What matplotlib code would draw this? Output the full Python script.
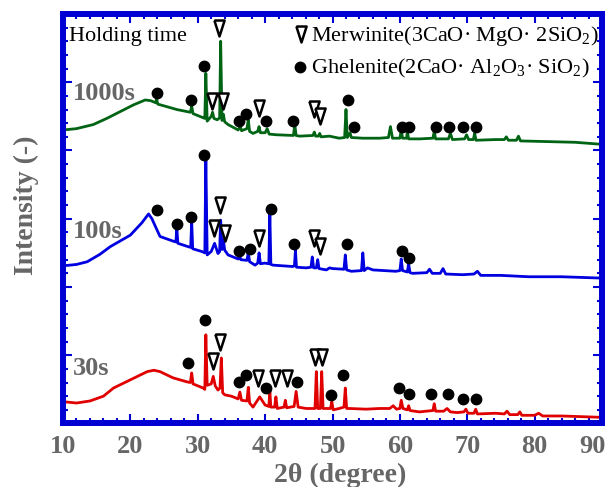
import matplotlib
matplotlib.use("Agg")
import matplotlib.pyplot as plt
from matplotlib.ticker import MultipleLocator

plt.rcParams['font.family'] = ['Liberation Serif', 'DejaVu Serif']
plt.rcParams['mathtext.fontset'] = 'custom'
plt.rcParams['mathtext.rm'] = 'Liberation Serif'
plt.rcParams['mathtext.it'] = 'Liberation Serif:italic'
plt.rcParams['mathtext.bf'] = 'Liberation Serif:bold'

# 30 s pattern (red)
red_x = [10.0, 12.0, 14.0, 16.0, 17.5, 20.0, 22.5, 23.5, 24.4, 26.3, 28.4,
         28.9, 29.1, 29.3, 30.8, 31.05, 31.2, 31.4, 32.0, 32.3, 32.6, 33.0,
         33.3, 33.5, 33.7, 34.0, 35.0, 36.0, 36.25, 36.5, 37.3, 37.5, 37.7,
         38.2, 39.2, 40.0, 40.55, 40.7, 40.85, 41.4, 41.6, 41.8, 42.8, 43.0,
         43.2, 44.3, 44.6, 44.9, 46.1, 47.4, 47.6, 47.8, 48.2, 48.4, 48.6,
         49.0, 49.7, 49.9, 50.1, 51.0, 51.7, 51.9, 52.1, 52.5, 55.0, 57.0,
         58.5, 59.0, 59.5, 60.0, 60.2, 60.45, 61.1, 61.3, 61.5, 62.9, 64.9,
         65.1, 65.3, 66.5, 67.0, 67.5, 68.5, 69.5, 69.8, 70.1, 71.0, 71.25,
         71.5, 74.2, 75.5, 75.9, 76.3, 77.5, 77.8, 78.1, 80.0, 80.6, 81.2,
         84.0, 87.0, 90.0]
red_y = [0.32, 0.30, 0.33, 0.40, 0.52, 0.64, 0.76, 0.78, 0.76, 0.67, 0.61,
         0.60, 0.74, 0.58, 0.52, 0.50, 1.30, 0.56, 0.58, 0.69, 0.55, 0.49,
         0.52, 0.96, 0.45, 0.42, 0.40, 0.36, 0.46, 0.34, 0.33, 0.53, 0.30,
         0.24, 0.39, 0.27, 0.25, 0.47, 0.24, 0.24, 0.39, 0.22, 0.24, 0.34,
         0.23, 0.25, 0.47, 0.24, 0.22, 0.22, 0.76, 0.22, 0.22, 0.76, 0.22,
         0.22, 0.22, 0.32, 0.20, 0.22, 0.24, 0.52, 0.22, 0.22, 0.21, 0.22,
         0.22, 0.26, 0.21, 0.22, 0.34, 0.22, 0.20, 0.26, 0.19, 0.17, 0.19,
         0.29, 0.18, 0.18, 0.22, 0.17, 0.16, 0.17, 0.21, 0.15, 0.15, 0.21,
         0.14, 0.15, 0.14, 0.18, 0.13, 0.13, 0.17, 0.12, 0.12, 0.15, 0.11,
         0.11, 0.10, 0.09]

# 100 s pattern (blue)
blue_x = [10.0, 12.0, 13.6, 15.5, 17.0, 20.0, 21.7, 22.7, 23.2, 23.7, 24.4,
          26.4, 26.75, 26.9, 27.05, 28.6, 28.95, 29.1, 29.25, 30.6, 31.05,
          31.2, 31.4, 32.0, 32.5, 33.0, 33.25, 33.4, 33.6, 33.8, 34.0, 34.5,
          36.0, 36.2, 36.4, 37.3, 37.5, 37.7, 38.5, 38.9, 39.1, 39.3, 39.95,
          40.55, 40.7, 40.85, 41.2, 44.1, 44.35, 44.5, 44.65, 46.1, 46.8,
          47.0, 47.2, 47.6, 47.8, 48.0, 49.1, 49.55, 50.0, 51.7, 51.9, 52.1,
          52.8, 54.3, 54.5, 54.7, 55.2, 56.0, 59.4, 60.0, 60.2, 60.4, 61.1,
          61.3, 61.5, 61.9, 64.0, 64.4, 64.8, 66.0, 66.4, 66.8, 69.3, 71.0,
          71.5, 72.0, 75.0, 79.1, 84.0, 90.0]
blue_y = [2.31, 2.33, 2.37, 2.48, 2.59, 2.76, 2.94, 3.07, 3.00, 2.89, 2.74,
          2.67, 2.66, 2.85, 2.64, 2.59, 2.58, 2.96, 2.56, 2.52, 2.50,
          3.89, 2.47, 2.52, 2.64, 2.49, 2.52, 2.98, 2.55, 2.69, 2.54, 2.47,
          2.41, 2.46, 2.40, 2.39, 2.50, 2.37, 2.32, 2.35, 2.50, 2.34, 2.35,
          2.34, 3.08, 2.33, 2.32, 2.30, 2.31, 2.54, 2.29, 2.28, 2.29,
          2.44, 2.28, 2.28, 2.40, 2.27, 2.25, 2.28, 2.27, 2.26, 2.47, 2.25,
          2.23, 2.24, 2.50, 2.24, 2.28, 2.25, 2.23, 2.24, 2.41, 2.24, 2.22,
          2.34, 2.21, 2.20, 2.21, 2.26, 2.20, 2.20, 2.27, 2.19, 2.18, 2.19,
          2.23, 2.17, 2.17, 2.15, 2.15, 2.13]

# 1000 s pattern (green)
green_x = [10.0, 12.0, 14.5, 16.5, 18.5, 20.5, 22.2, 23.0, 23.75, 23.9, 24.05,
           24.4, 26.9, 28.9, 29.1, 29.3, 30.8, 31.05, 31.2, 31.4, 32.0, 32.2,
           32.4, 32.9, 33.25, 33.4, 33.6, 33.8, 34.0, 34.5, 36.0, 36.3, 36.5,
           37.3, 37.5, 37.7, 38.2, 38.9, 39.1, 39.3, 40.0, 40.3, 40.6, 41.7,
           44.2, 44.4, 44.6, 45.1, 47.1, 47.3, 47.5, 47.9, 48.1, 48.3, 49.55,
           51.0, 51.8, 52.0, 52.2, 52.6, 52.8, 54.5, 57.0, 58.3, 58.6, 58.9,
           60.0, 60.2, 60.4, 61.0, 61.1, 61.3, 63.0, 64.9, 65.1, 65.3, 67.2,
           67.5, 67.8, 69.6, 69.9, 70.2, 70.9, 71.1, 71.3, 74.2, 75.5, 75.8,
           76.1, 77.3, 77.6, 77.9, 82.0, 86.0, 90.0]
green_y = [4.30, 4.32, 4.38, 4.47, 4.57, 4.67, 4.74, 4.73, 4.70, 4.76, 4.68,
           4.67, 4.60, 4.56, 4.65, 4.54, 4.48, 4.47, 5.13, 4.43, 4.50, 4.56,
           4.47, 4.45, 4.48, 5.60, 4.44, 4.53, 4.42, 4.38, 4.30, 4.36, 4.29,
           4.32, 4.45, 4.28, 4.25, 4.28, 4.35, 4.26, 4.26, 4.32, 4.24, 4.23,
           4.22, 4.38, 4.22, 4.21, 4.22, 4.27, 4.21, 4.21, 4.25, 4.20, 4.21,
           4.18, 4.19, 4.60, 4.19, 4.26, 4.19, 4.18, 4.18, 4.19, 4.35, 4.18,
           4.18, 4.30, 4.18, 4.18, 4.28, 4.17, 4.17, 4.18, 4.28, 4.17, 4.17,
           4.25, 4.16, 4.17, 4.23, 4.16, 4.16, 4.25, 4.15, 4.16, 4.16, 4.20,
           4.15, 4.15, 4.21, 4.14, 4.13, 4.12, 4.09]

# phase markers: gehlenite (dots), merwinite (triangles)
red_dot_x = [28.5, 31.1, 36.15, 37.2, 40.2, 44.7, 49.8, 51.6, 59.9, 61.3, 64.6, 67.2, 69.4, 71.25]
red_dot_y = [0.89, 1.52, 0.61, 0.71, 0.52, 0.61, 0.42, 0.71, 0.52, 0.43, 0.43, 0.43, 0.36, 0.36]
red_tri_x = [32.3, 33.3, 38.95, 41.4, 43.3, 47.35, 48.4]
red_tri_y = [0.91, 1.20, 0.66, 0.66, 0.66, 0.98, 0.98]

blue_dot_x = [23.9, 26.9, 29.0, 31.0, 36.1, 37.7, 40.9, 44.3, 52.2, 60.3, 61.3]
blue_dot_y = [3.13, 2.93, 3.02, 3.94, 2.52, 2.55, 3.14, 2.63, 2.63, 2.52, 2.42]
blue_tri_x = [32.4, 33.3, 34.0, 39.1, 47.2, 48.2]
blue_tri_y = [2.86, 3.20, 2.79, 2.72, 2.72, 2.60]

green_dot_x = [23.9, 29.0, 31.0, 36.1, 37.1, 40.1, 44.1, 52.3, 53.15, 60.25, 61.4, 65.3, 67.3, 69.4, 71.25]
green_dot_y = [4.84, 4.74, 5.24, 4.43, 4.54, 4.43, 4.43, 4.74, 4.34, 4.34, 4.34, 4.34, 4.34, 4.34, 4.34]
green_tri_x = [32.05, 33.2, 33.8, 39.1, 47.25, 48.1]
green_tri_y = [4.72, 5.79, 4.72, 4.62, 4.61, 4.51]

labels = ['30s', '100s', '1000s']
label_y = [0.71, 2.72, 4.74]

xtick_vals = [10, 20, 30, 40, 50, 60, 70, 80, 90]
xtick_text = ['10', '20', '30', '40', '50', '60', '70', '80', '90']

frame_blue = '#0000d2'
gray = '#666666'
tri = [(-0.32, 0.5), (0.32, 0.5), (0.0, -0.5), (-0.32, 0.5)]

fig = plt.figure(figsize=(6.11, 4.87), dpi=100)
ax = fig.add_axes([0.1031, 0.1304, 0.8822, 0.8409])

ax.plot(red_x, red_y, color='#e00000', lw=2.0, zorder=2)
ax.plot(blue_x, blue_y, color='#0000e0', lw=2.0, zorder=2)
ax.plot(green_x, green_y, color='#006414', lw=2.0, zorder=2)

for dx, dy in [(red_dot_x, red_dot_y), (blue_dot_x, blue_dot_y), (green_dot_x, green_dot_y)]:
    ax.plot(dx, dy, 'o', color='black', ms=7.5, zorder=3)
for tx, ty in [(red_tri_x, red_tri_y), (blue_tri_x, blue_tri_y), (green_tri_x, green_tri_y)]:
    ax.plot(tx, ty, linestyle='none', marker=tri, ms=11.5, mfc='white', mec='black', mew=1.8, zorder=3)

for lab, ly in zip(labels, label_y):
    ax.text(11.5, ly, lab, color=gray, fontsize=19, fontweight='bold', va='baseline', ha='left')

ax.text(10.84, 5.60, 'Holding time', fontsize=16, va='baseline', ha='left', color='black')

# legend drawn by hand
ax.plot([45.37], [5.70], linestyle='none', marker=tri, ms=11.5, mfc='white', mec='black', mew=1.8)
ax.plot([45.2], [5.23], 'o', color='black', ms=7.5)
ax.text(46.85, 5.61, 'Merwinite(3CaO· MgO· 2SiO$_2$)', fontsize=16, va='baseline', ha='left')
ax.text(46.85, 5.13, 'Ghelenite(2CaO· Al$_2$O$_3$· SiO$_2$)', fontsize=16, va='baseline', ha='left')

ax.set_xlim(10, 90)
ax.set_ylim(0, 6)
# last label is drawn a bit inside so it is not cut at the figure edge
ax.set_xticks(xtick_vals, xtick_text[:-1] + [''])
ax.xaxis.set_minor_locator(MultipleLocator(2))
ax.yaxis.set_major_locator(MultipleLocator(1))
ax.yaxis.set_minor_locator(MultipleLocator(0.2))

for s in ax.spines.values():
    s.set_color(frame_blue)
    s.set_linewidth(4.3)

ax.tick_params(which='both', direction='in', top=True, right=True, color=frame_blue, width=1.5,
               labelleft=False, labelcolor=gray, labelsize=19)
ax.tick_params(which='major', length=6.3, pad=8)
ax.tick_params(which='minor', length=3.6)
for t in ax.get_xticklabels():
    t.set_fontweight('bold')
ax.annotate(xtick_text[-1], xy=(88.6, 0), xycoords=('data', 'axes fraction'),
            xytext=(0, -8), textcoords='offset points', ha='center', va='top',
            fontsize=19, fontweight='bold', color=gray, annotation_clip=False)

ax.text(0.514, -0.143, '2θ (degree)', transform=ax.transAxes, fontsize=20, fontweight='bold',
        color=gray, ha='center', va='baseline')
ax.text(-0.0686, 0.534, 'Intensity (-)', transform=ax.transAxes, fontsize=20, fontweight='bold',
        color=gray, ha='center', va='center', rotation=90)

fig.savefig('out.png', dpi=100)
